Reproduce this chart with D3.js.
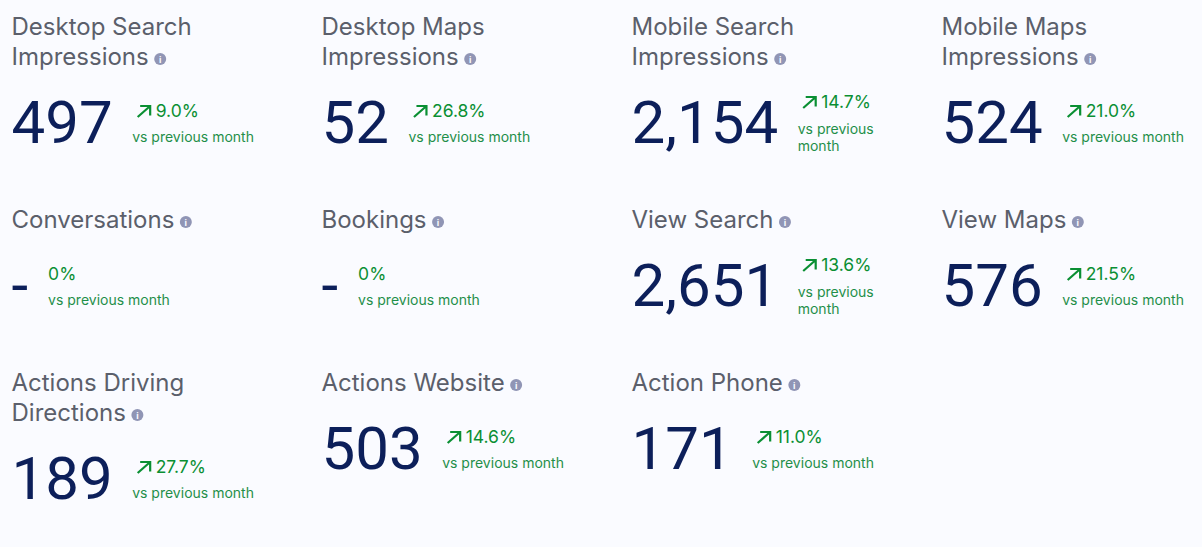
<!DOCTYPE html>
<html>
<head>
<meta charset="utf-8">
<script src="https://cdn.jsdelivr.net/npm/d3@7"></script>
<style>
  html, body { margin: 0; padding: 0; background: #fafbff; overflow: hidden; }
  svg { display: block; }
  text { font-family: Inter, "Noto Sans", sans-serif; }
  .title { font-size: 24px; fill: #5b5f6b; }
  .number { font-family: Roboto, sans-serif; font-size: 60px; fill: #0c1f5a; }
  .pct { font-size: 17.5px; fill: #0a8f33; }
  .sub { font-size: 14px; fill: #1f8f4a; }
  .arrow { fill: none; stroke: #0a8f33; stroke-width: 2.2; }
  .info { fill: #9095b5; }
  .info-i { font-size: 9px; font-weight: 700; fill: #fafbff; text-anchor: middle; }
</style>
</head>
<body>
<svg id="chart" width="1202" height="547"></svg>
<script>
"use strict";

//card contents
var titles = [
  ["Desktop Search", "Impressions"], ["Desktop Maps", "Impressions"],
  ["Mobile Search", "Impressions"], ["Mobile Maps", "Impressions"],
  ["Conversations"], ["Bookings"], ["View Search"], ["View Maps"],
  ["Actions Driving", "Directions"], ["Actions Website"], ["Action Phone"]
];
var values = [497, 52, 2154, 524, null, null, 2651, 576, 189, 503, 171];
var deltas = [9.0, 26.8, 14.7, 21.0, 0, 0, 13.6, 21.5, 27.7, 14.6, 11.0];
var subLabel = "vs previous month";

var svg = d3.select("#chart");

var x_col = d3.scaleLinear().domain([0, 3]).range([11.5, 941.5]);
var y_row = d3.scaleOrdinal().domain([0, 1, 2]).range([35, 228, 391]);
var fmt_value = d3.format(",");
var fmt_delta = d3.format(".1f");

titles.forEach(function(lines, i) {
  var col = i % 4, row = Math.floor(i / 4);
  var x0 = x_col(col), y0 = y_row(row);
  var g = svg.append("g");

  //title, with the info dot after the last line
  var last;
  lines.forEach(function(line, k) {
    last = g.append("text").attr("class", "title")
      .attr("x", x0).attr("y", y0 + k * 30).text(line);
  });
  var y_last = y0 + (lines.length - 1) * 30;
  var x_info = x0 + last.node().getComputedTextLength() + 11.5;
  g.append("circle").attr("class", "info")
    .attr("cx", x_info).attr("cy", y_last - 6).attr("r", 6);
  g.append("text").attr("class", "info-i")
    .attr("x", x_info).attr("y", y_last - 2.5).text("i");

  //big number
  var y_num = lines.length == 2 ? y0 + 108 : y0 + 78;
  var num = g.append("text").attr("class", "number")
    .attr("x", x0).attr("y", y_num)
    .text(values[i] === null ? "-" : fmt_value(values[i]));
  var num_w = num.node().getComputedTextLength();
  var x_d = x0 + num_w + (values[i] === null ? 20 : 19.5);

  //narrow space: the sub label goes on two lines
  var wrap = x_d - x0 + 121 > 270;
  var y_pct = wrap ? y_num - 35 : y_num - 26;
  var x_pct = x_d;

  if (deltas[i] !== 0) {
    var ax = x_d + 5.5, ay = y_pct;
    g.append("path").attr("class", "arrow")
      .attr("d", "M" + ax + "," + (ay) + "L" + (ax + 12.5) + "," + (ay - 11)
        + "M" + (ax + 2.5) + "," + (ay - 11) + "L" + (ax + 12.5) + "," + (ay - 11)
        + "L" + (ax + 12.5) + "," + (ay - 1.5));
    x_pct = x_d + 23.5;
  }
  g.append("text").attr("class", "pct")
    .attr("x", x_pct).attr("y", y_pct)
    .text(deltas[i] === 0 ? "0%" : fmt_delta(deltas[i]) + "%");

  if (wrap) {
    g.append("text").attr("class", "sub")
      .attr("x", x_d).attr("y", y_pct + 26).text("vs previous");
    g.append("text").attr("class", "sub")
      .attr("x", x_d).attr("y", y_pct + 43).text("month");
  } else {
    g.append("text").attr("class", "sub")
      .attr("x", x_d).attr("y", y_pct + 25).text(subLabel);
  }
});
</script>
</body>
</html>
